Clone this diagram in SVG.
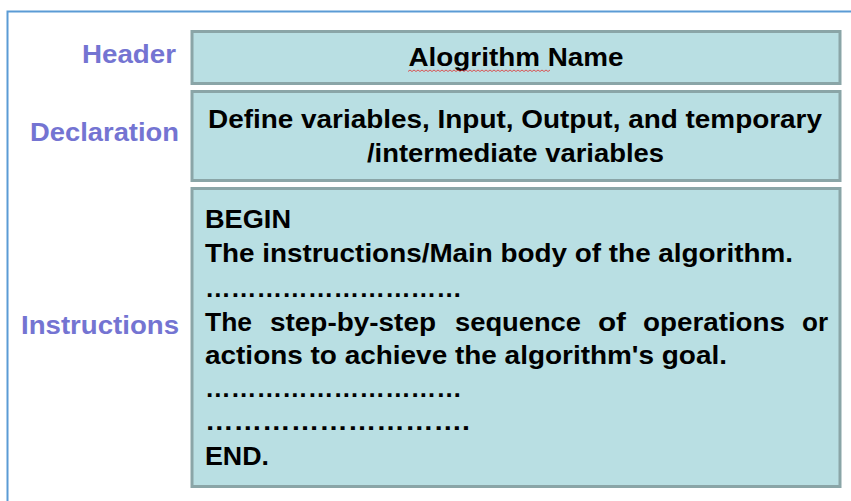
<svg xmlns="http://www.w3.org/2000/svg" width="851" height="501" viewBox="0 0 851 501">
  <style>
    .box { fill: #b9dfe3; stroke: #8aa5a7; stroke-width: 3; }
    .lbl { font-family: "Liberation Sans", Arial, sans-serif; font-weight: bold; font-size: 25px; fill: #7474d2; text-anchor: end; }
    .txt { font-family: "Liberation Sans", Arial, sans-serif; font-weight: bold; font-size: 25px; fill: #000000; }
    .mid { text-anchor: middle; }
  </style>
  <rect x="0" y="0" width="851" height="501" fill="#ffffff"/>
  <!-- outer frame -->
  <polyline points="7.5,501 7.5,11.5 851,11.5" fill="none" stroke="#5b9bd5" stroke-width="2"/>

  <g id="header">
    <text class="lbl" x="176" y="63" textLength="94" lengthAdjust="spacingAndGlyphs">Header</text>
    <rect class="box" x="192" y="31.5" width="648" height="52"/>
    <text class="txt mid" x="516" y="66" textLength="215" lengthAdjust="spacingAndGlyphs">Alogrithm Name</text>
    <!-- spell-check squiggle -->
    <path d="M408,71.5 l2,-1.5 l2,1.5 l2,-1.5 l2,1.5 l2,-1.5 l2,1.5 l2,-1.5 l2,1.5 l2,-1.5 l2,1.5 l2,-1.5 l2,1.5 l2,-1.5 l2,1.5 l2,-1.5 l2,1.5 l2,-1.5 l2,1.5 l2,-1.5 l2,1.5 l2,-1.5 l2,1.5 l2,-1.5 l2,1.5 l2,-1.5 l2,1.5 l2,-1.5 l2,1.5 l2,-1.5 l2,1.5 l2,-1.5 l2,1.5 l2,-1.5 l2,1.5 l2,-1.5 l2,1.5 l2,-1.5 l2,1.5 l2,-1.5 l2,1.5 l2,-1.5 l2,1.5 l2,-1.5 l2,1.5 l2,-1.5 l2,1.5 l2,-1.5 l2,1.5 l2,-1.5 l2,1.5 l2,-1.5 l2,1.5 l2,-1.5 l2,1.5 l2,-1.5 l2,1.5 l2,-1.5 l2,1.5 l2,-1.5 l2,1.5 l2,-1.5 l2,1.5 l2,-1.5 l2,1.5 l2,-1.5 l2,1.5 l2,-1.5 l2,1.5 l2,-1.5 l2,1.5 l2,-1.5" fill="none" stroke="#e03030" stroke-width="0.8"/>
  </g>

  <g id="declaration">
    <text class="lbl" x="179" y="141" textLength="149" lengthAdjust="spacingAndGlyphs">Declaration</text>
    <rect class="box" x="192" y="91.5" width="648" height="89"/>
    <text class="txt mid" x="515" y="128" textLength="614" lengthAdjust="spacingAndGlyphs">Define variables, Input, Output, and temporary</text>
    <text class="txt mid" x="515.5" y="162" textLength="297" lengthAdjust="spacingAndGlyphs">/intermediate variables</text>
  </g>

  <g id="instructions">
    <text class="lbl" x="179" y="334" textLength="158" lengthAdjust="spacingAndGlyphs">Instructions</text>
    <rect class="box" x="192" y="188.5" width="648" height="298"/>
    <text class="txt" x="205" y="228" textLength="86" lengthAdjust="spacingAndGlyphs">BEGIN</text>
    <text class="txt" x="205" y="262" textLength="588" lengthAdjust="spacingAndGlyphs">The instructions/Main body of the algorithm.</text>
    <text class="txt" x="205" y="297" textLength="257" lengthAdjust="spacingAndGlyphs">…………………………</text>
    <!-- justified line: each word placed and sized on its own -->
    <text class="txt" y="331" lengthAdjust="spacingAndGlyphs">
      <tspan x="205" textLength="47" lengthAdjust="spacingAndGlyphs">The</tspan>
      <tspan x="270" textLength="166" lengthAdjust="spacingAndGlyphs">step-by-step</tspan>
      <tspan x="455" textLength="126" lengthAdjust="spacingAndGlyphs">sequence</tspan>
      <tspan x="598" textLength="28" lengthAdjust="spacingAndGlyphs">of</tspan>
      <tspan x="643" textLength="142" lengthAdjust="spacingAndGlyphs">operations</tspan>
      <tspan x="802" textLength="26" lengthAdjust="spacingAndGlyphs">or</tspan>
    </text>
    <text class="txt" x="205" y="364" textLength="522" lengthAdjust="spacingAndGlyphs">actions to achieve the algorithm's goal.</text>
    <text class="txt" x="205" y="397" textLength="257" lengthAdjust="spacingAndGlyphs">…………………………</text>
    <text class="txt" x="205" y="430" textLength="265" lengthAdjust="spacingAndGlyphs">……………………….</text>
    <text class="txt" x="205" y="465" textLength="64" lengthAdjust="spacingAndGlyphs">END.</text>
  </g>
</svg>
